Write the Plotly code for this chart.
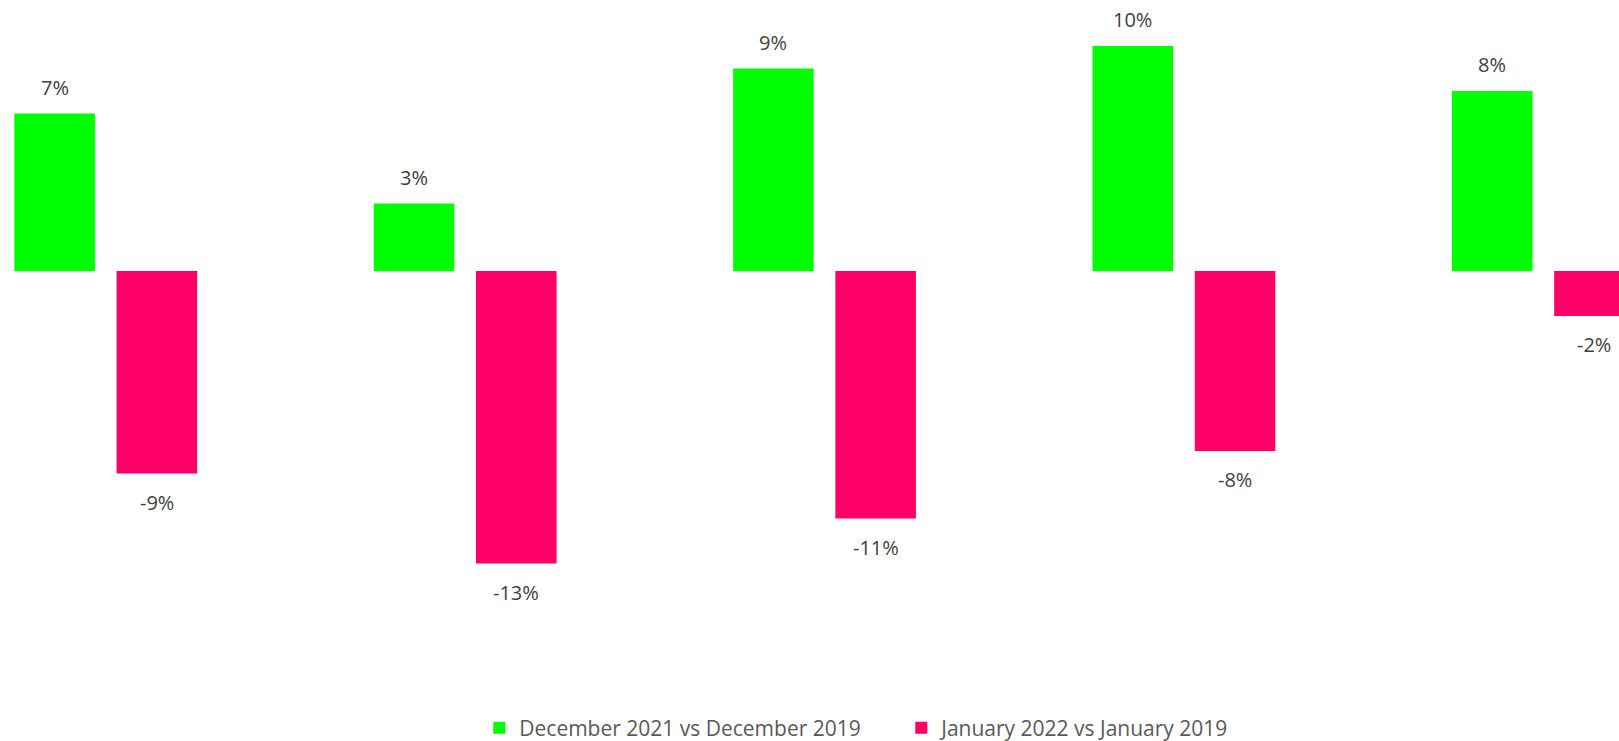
import plotly.graph_objects as go

categories = [0, 1, 2, 3, 4]
series_names = ["December 2021 vs December 2019", "January 2022 vs January 2019"]
dec_values = [7, 3, 9, 10, 8]
jan_values = [-9, -13, -11, -8, -2]
colors = ["#00FF00", "#FF0066"]

# layout/style constants
X_RANGE = [-0.2942, 4.2105]
Y_RANGE = [-20.889, 12.044]
BAR_OFFSET = 0.1422
FONT = "Open Sans"

fig = go.Figure()
for name, vals, col in zip(series_names, [dec_values, jan_values], colors):
    fig.add_trace(go.Bar(x=categories, y=vals, name=name, marker=dict(color=col, line=dict(width=0)),
                         hoverinfo="skip"))

annotations = []
for vals, off in [(dec_values, -BAR_OFFSET), (jan_values, BAR_OFFSET)]:
    for c, v in zip(categories, vals):
        annotations.append(dict(
            x=c + off, y=v, xref="x", yref="y", text=f"{v}%", showarrow=False,
            yanchor="middle", yshift=26 if v >= 0 else -29,
            font=dict(family=FONT, size=20, color="#404040")))

fig.update_layout(
    width=1619, height=741,
    margin=dict(l=0, r=0, t=0, b=0, autoexpand=False),
    paper_bgcolor="white", plot_bgcolor="white",
    barmode="group", bargap=0.431, bargroupgap=0.212,
    xaxis=dict(range=X_RANGE, visible=False, fixedrange=True),
    yaxis=dict(range=Y_RANGE, visible=False, fixedrange=True),
    showlegend=True,
    legend=dict(orientation="h", x=(493.3 - 14) / 1619, xanchor="left", y=0.0175, yanchor="middle",
                font=dict(family=FONT, size=21, color="#595959"),
                entrywidth=377, entrywidthmode="pixels", bgcolor="rgba(0,0,0,0)"),
    annotations=annotations,
)

fig.write_html("out.html")
